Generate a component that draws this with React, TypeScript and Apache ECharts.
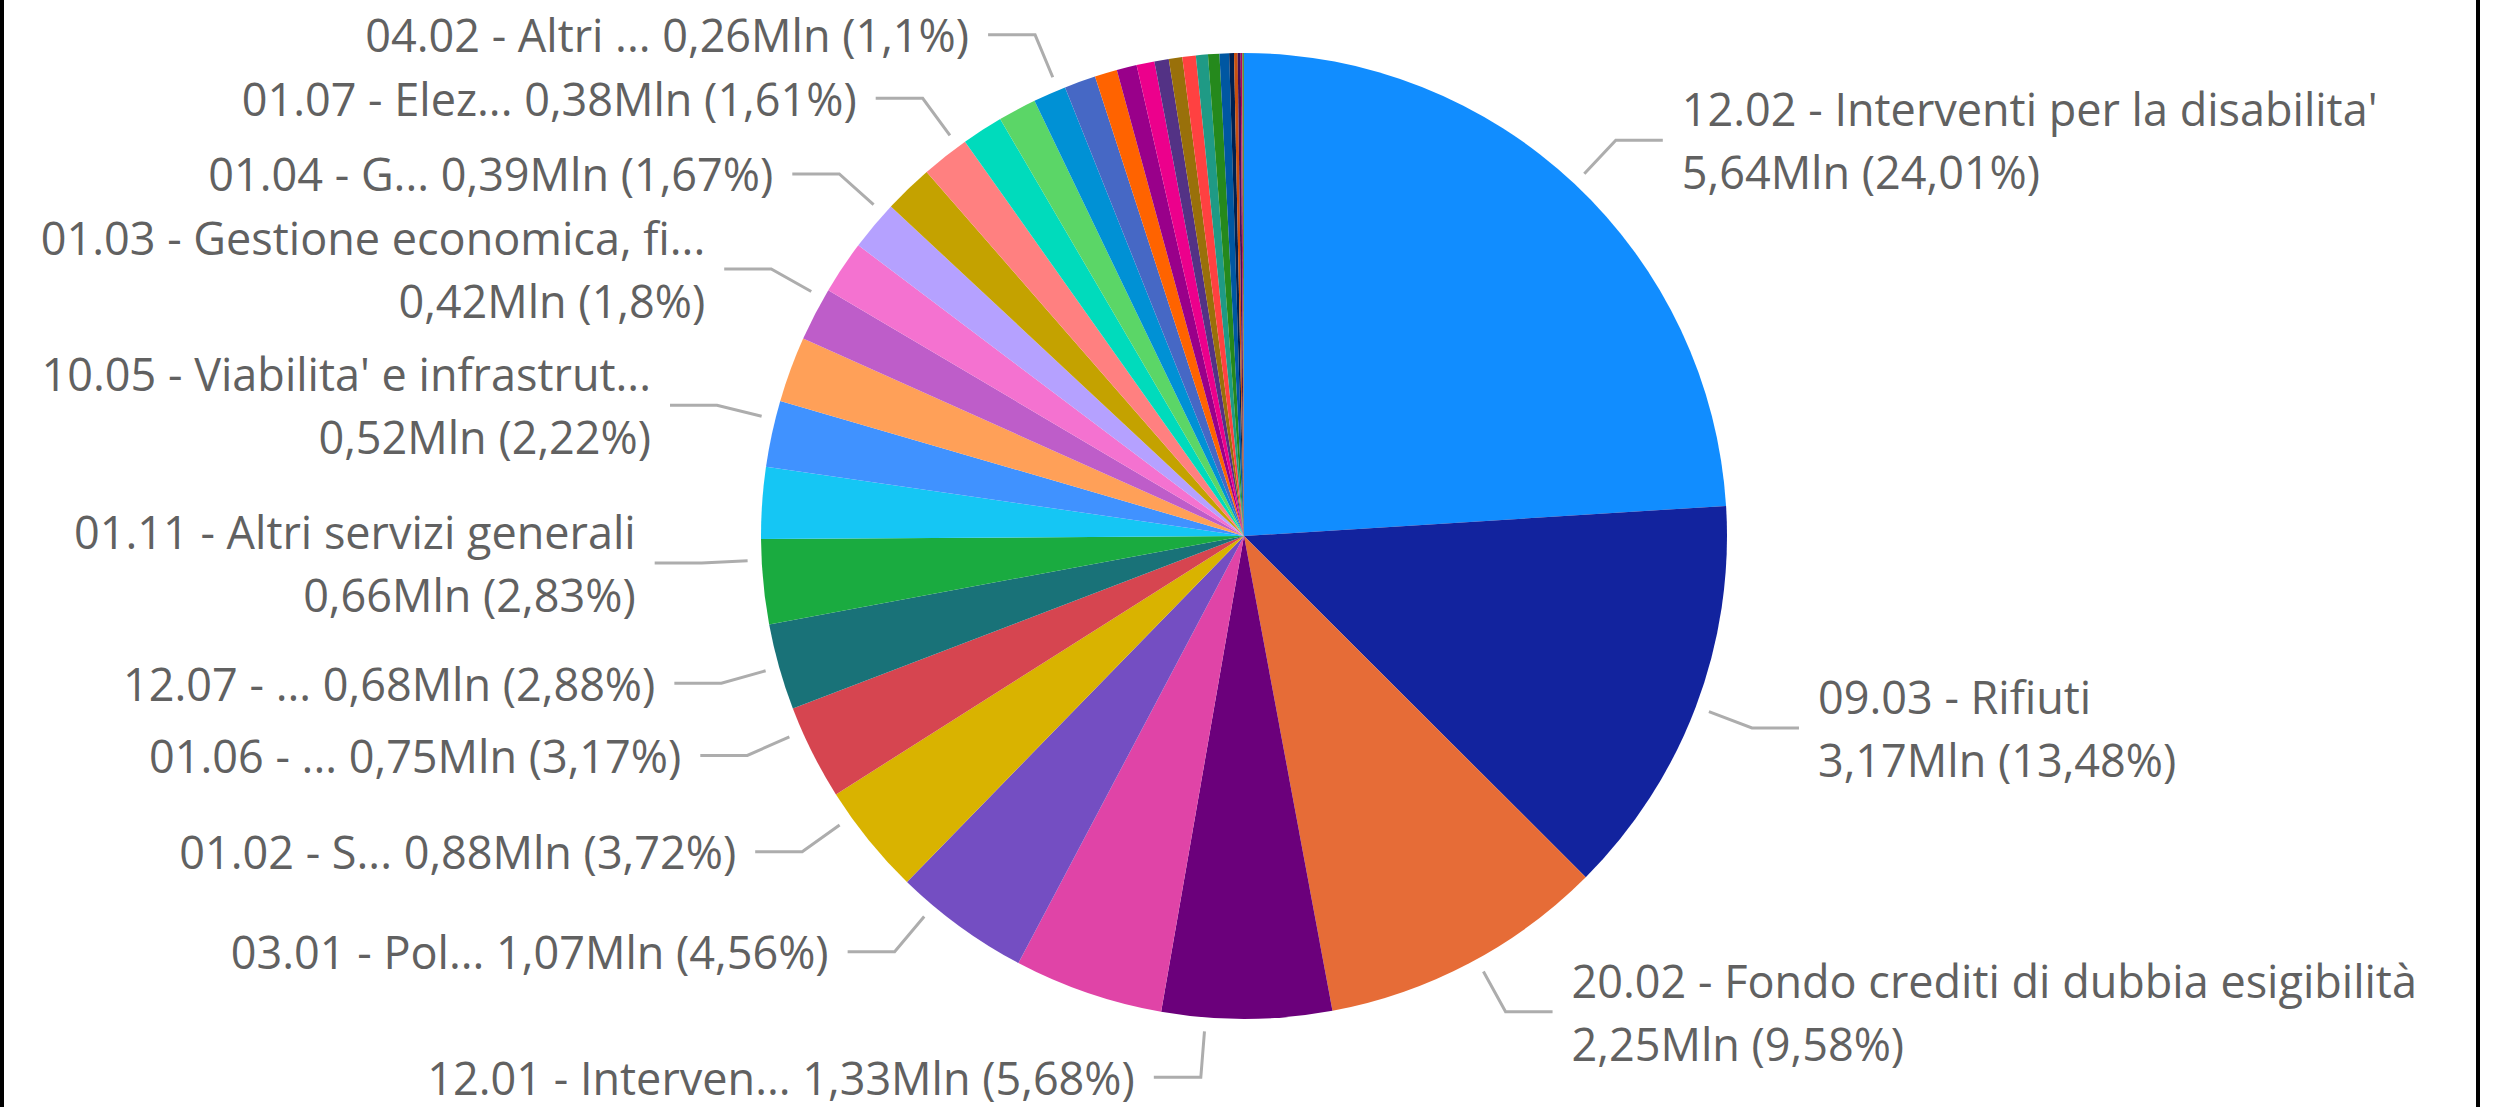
import React, { useEffect, useRef } from "react";
import * as echarts from "echarts";

// Display names (as shown on the chart; truncated where the original truncates)
const categories: string[] = [
  "12.02 - Interventi per la disabilita'",
  "09.03 - Rifiuti",
  "20.02 - Fondo crediti di dubbia esigibilità",
  "12.01 - Interven...",
  "04.06 - Servizi ausiliari all'istruzione",
  "03.01 - Pol...",
  "01.02 - S...",
  "01.06 - ...",
  "12.07 - ...",
  "01.11 - Altri servizi generali",
  "08.01 - Urbanistica e assetto del territorio",
  "10.05 - Viabilita' e infrastrut...",
  "04.01 - Istruzione prescolastica",
  "01.03 - Gestione economica, fi...",
  "12.04 - Interventi per soggetti a rischio di esclusione sociale",
  "01.04 - G...",
  "01.01 - Organi istituzionali",
  "01.07 - Elez...",
  "09.02 - Tutela, valorizzazione e recupero ambientale",
  "05.02 - Attivita' culturali",
  "04.02 - Altri ...",
  "06.01 - Sport e tempo libero",
  "12.05 - Interventi per le famiglie",
  "01.05 - Gestione dei beni demaniali e patrimoniali",
  "12.09 - Servizio necroscopico e cimiteriale",
  "01.08 - Statistica e sistemi informativi",
  "11.01 - Sistema di protezione civile",
  "12.03 - Interventi per gli anziani",
  "14.02 - Commercio - reti distributive",
  "10.02 - Trasporto pubblico locale",
  "09.05 - Aree protette e parchi naturali",
  "07.01 - Sviluppo e valorizzazione del turismo",
  "12.06 - Interventi per il diritto alla casa",
  "08.02 - Edilizia residenziale pubblica",
  "15.03 - Sostegno all'occupazione",
  "16.01 - Sviluppo del settore agricolo",
];

// Values in millions (Mln)
const values: number[] = [
  5.642, 3.168, 2.251, 1.334, 1.1727, 1.071, 0.8752, 0.7456, 0.677, 0.6645,
  0.5625, 0.5215, 0.5147, 0.423, 0.4183, 0.3925, 0.3854, 0.378, 0.3243, 0.3008,
  0.2585, 0.2468, 0.1763, 0.1575, 0.141, 0.1128, 0.1058, 0.1058, 0.094, 0.0893,
  0.0752, 0.0376, 0.0282, 0.0236, 0.0118, 0.014,
];

// Which slices carry a data label
const labeled: boolean[] = [
  true, true, true, true, false, true, true, true, true, true,
  false, true, false, true, false, true, false, true, false, false,
  true, false, false, false, false, false, false, false, false, false,
  false, false, false, false, false, false,
];

// Styling: slice colours
const colors: string[] = [
  "#118DFF", "#12239E", "#E66C37", "#6B007B", "#E044A7", "#744EC2", "#D9B300", "#D64550",
  "#197278", "#1AAB40", "#15C6F4", "#4092FF", "#FFA058", "#BE5DC9", "#F472D0", "#B5A1FF",
  "#C4A200", "#FF8080", "#00DBBC", "#5BD667", "#0091D5", "#4668C5", "#FF6300", "#99008A",
  "#EC008C", "#533285", "#99700A", "#FF4141", "#1F9A85", "#25891C", "#0057A2", "#002050",
  "#C94F0F", "#450F54", "#B60064", "#6A8A3A",
];

// Styling: leader-line angular nudge (degrees, clockwise) per slice, as the original lays them out
const leaderShift: number[] = [
  0, 0, -1, 4.9, 0, 4, 3.5, 2.8, 0, 2.6,
  0, 1.7, 0, 2.1, 0, 1.8, 0, 1.9, 0, 0,
  1.1, 0, 0, 0, 0, 0, 0, 0, 0, 0,
  0, 0, 0, 0, 0, 0,
];

const CX = 1244;
const CY = 536;
const R = 483;
const GAP = 14;
const LEN = 60;
const LEN2 = 47;
const TEXT_GAP = 19;
const TEXT_COLOR = "#616161";
const FONT = "'Open Sans', 'Noto Sans', sans-serif";

export default function App() {
  const ref = useRef<HTMLDivElement>(null);

  useEffect(() => {
    if (!ref.current) return;
    const chart = echarts.init(ref.current, undefined, { renderer: "svg" });
    const total = values.reduce((a, b) => a + b, 0);
    const fmtPct = (v: number) => {
      const p = Math.round((v / total) * 10000) / 100;
      return String(p).replace(".", ",");
    };
    const fmtMln = (v: number) => v.toFixed(2).replace(".", ",") + "Mln";

    const data = categories.map((name, i) => ({
      name,
      value: values[i],
      itemStyle: { color: colors[i] },
      label: { show: labeled[i] },
      labelLine: { show: labeled[i] },
    }));

    chart.setOption({
      animation: false,
      backgroundColor: "#ffffff",
      series: [
        {
          type: "pie",
          center: [CX, CY],
          radius: R,
          startAngle: 90,
          clockwise: true,
          avoidLabelOverlap: false,
          data,
          itemStyle: { borderWidth: 0 },
          label: {
            position: "outside",
            color: TEXT_COLOR,
            fontFamily: FONT,
            fontSize: 45,
            lineHeight: 63,
            distanceToLabelLine: TEXT_GAP,
            formatter: (p: any) => {
              const name: string = p.name;
              const val = fmtMln(p.value) + " (" + fmtPct(p.value) + "%)";
              const oneLine = name.endsWith("...") && name.length < 20;
              return oneLine ? name + " " + val : name + "\n" + val;
            },
          },
          labelLine: {
            show: true,
            length: LEN,
            length2: LEN2,
            smooth: false,
            lineStyle: { color: "#ADADAD", width: 3 },
          },
          labelLayout: (params: any) => {
            const pts = params.labelLinePoints;
            if (!pts) return {};
            const p0 = pts[0];
            let ang = Math.atan2(p0[1] - CY, p0[0] - CX);
            ang += ((leaderShift[params.dataIndex] || 0) * Math.PI) / 180;
            const c = Math.cos(ang);
            const s = Math.sin(ang);
            const a = [CX + (R + GAP) * c, CY + (R + GAP) * s];
            const b = [CX + (R + LEN) * c, CY + (R + LEN) * s];
            const left = b[0] < CX;
            const e = [b[0] + (left ? -LEN2 : LEN2), b[1]];
            return {
              x: e[0] + (left ? -TEXT_GAP : TEXT_GAP),
              y: b[1],
              align: left ? "right" : "left",
              verticalAlign: "middle",
              labelLinePoints: [a, b, e],
            };
          },
        },
      ],
    });
    return () => chart.dispose();
  }, []);

  return (
    <div style={{ position: "fixed", left: 0, top: 0, width: 2494, height: 1107, background: "#fff" }}>
      <div ref={ref} style={{ position: "absolute", left: 0, top: 0, width: 2494, height: 1107 }} />
      <div style={{ position: "absolute", left: 0, top: 0, width: 4, height: 1107, background: "#000" }} />
      <div style={{ position: "absolute", left: 2476, top: 0, width: 4, height: 1107, background: "#000" }} />
    </div>
  );
}
